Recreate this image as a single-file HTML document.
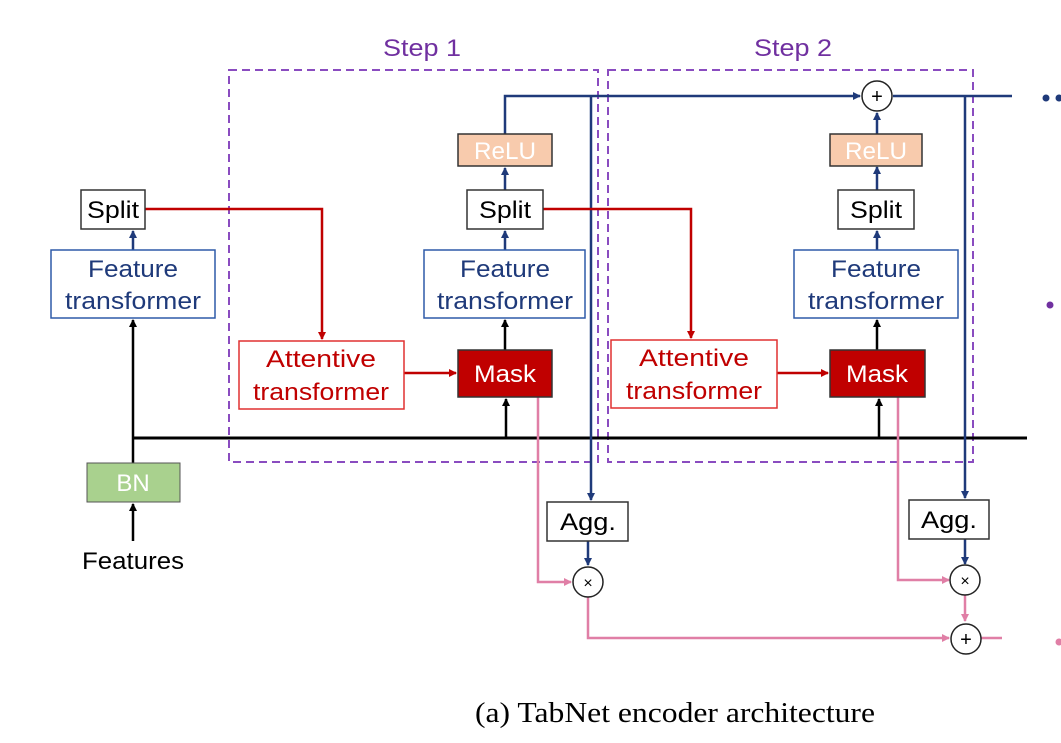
<!DOCTYPE html>
<html><head><meta charset="utf-8"><style>
html,body{margin:0;padding:0;background:#fff;width:1061px;height:743px;overflow:hidden}
svg{display:block}
text{font-family:"Liberation Sans",sans-serif}
</style></head><body>
<svg width="1061" height="743" viewBox="0 0 1061 743">
<defs>
<marker id="ab" markerWidth="8" markerHeight="8" refX="7" refY="4" orient="auto" markerUnits="userSpaceOnUse"><path d="M0,0 L8,4 L0,8z" fill="#1f3a7a"/></marker>
<marker id="ak" markerWidth="8" markerHeight="8" refX="7" refY="4" orient="auto" markerUnits="userSpaceOnUse"><path d="M0,0 L8,4 L0,8z" fill="#000"/></marker>
<marker id="ar" markerWidth="8" markerHeight="8" refX="7" refY="4" orient="auto" markerUnits="userSpaceOnUse"><path d="M0,0 L8,4 L0,8z" fill="#c00000"/></marker>
<marker id="ap" markerWidth="8" markerHeight="8" refX="7" refY="4" orient="auto" markerUnits="userSpaceOnUse"><path d="M0,0 L8,4 L0,8z" fill="#e07fa6"/></marker>
</defs>
<rect x="229" y="70" width="369" height="392" fill="none" stroke="#8a4cc0" stroke-width="2" stroke-dasharray="8,5"/>
<rect x="608" y="70" width="365" height="392" fill="none" stroke="#8a4cc0" stroke-width="2" stroke-dasharray="8,5"/>
<text x="422" y="56" font-size="24" fill="#7030a0" text-anchor="middle" textLength="78" lengthAdjust="spacingAndGlyphs">Step 1</text>
<text x="793" y="56" font-size="24" fill="#7030a0" text-anchor="middle" textLength="78" lengthAdjust="spacingAndGlyphs">Step 2</text>
<line x1="133" y1="463" x2="133" y2="320" stroke="#000" stroke-width="2.5" marker-end="url(#ak)"/>
<line x1="133" y1="438" x2="1027" y2="438" stroke="#000" stroke-width="3"/>
<line x1="133" y1="541" x2="133" y2="504" stroke="#000" stroke-width="2.5" marker-end="url(#ak)"/>
<line x1="506" y1="438" x2="506" y2="399" stroke="#000" stroke-width="2.5" marker-end="url(#ak)"/>
<line x1="505" y1="350" x2="505" y2="320" stroke="#000" stroke-width="2.5" marker-end="url(#ak)"/>
<line x1="879" y1="438" x2="879" y2="399" stroke="#000" stroke-width="2.5" marker-end="url(#ak)"/>
<line x1="877" y1="350" x2="877" y2="320" stroke="#000" stroke-width="2.5" marker-end="url(#ak)"/>
<polyline points="505,134 505,96 860,96" fill="none" stroke="#1f3a7a" stroke-width="2.5" marker-end="url(#ab)"/>
<line x1="893" y1="96" x2="1012" y2="96" stroke="#1f3a7a" stroke-width="2.5"/>
<line x1="591" y1="96" x2="591" y2="500" stroke="#1f3a7a" stroke-width="2.5" marker-end="url(#ab)"/>
<line x1="965" y1="96" x2="965" y2="498" stroke="#1f3a7a" stroke-width="2.5" marker-end="url(#ab)"/>
<line x1="133" y1="250" x2="133" y2="231" stroke="#1f3a7a" stroke-width="2.5" marker-end="url(#ab)"/>
<line x1="505" y1="250" x2="505" y2="231" stroke="#1f3a7a" stroke-width="2.5" marker-end="url(#ab)"/>
<line x1="505" y1="190" x2="505" y2="168" stroke="#1f3a7a" stroke-width="2.5" marker-end="url(#ab)"/>
<line x1="877" y1="250" x2="877" y2="231" stroke="#1f3a7a" stroke-width="2.5" marker-end="url(#ab)"/>
<line x1="877" y1="190" x2="877" y2="167" stroke="#1f3a7a" stroke-width="2.5" marker-end="url(#ab)"/>
<line x1="877" y1="134" x2="877" y2="113" stroke="#1f3a7a" stroke-width="2.5" marker-end="url(#ab)"/>
<line x1="588" y1="541" x2="588" y2="565" stroke="#1f3a7a" stroke-width="2.5" marker-end="url(#ab)"/>
<line x1="965" y1="539" x2="965" y2="564" stroke="#1f3a7a" stroke-width="2.5" marker-end="url(#ab)"/>
<polyline points="145,209 322,209 322,339" fill="none" stroke="#c00000" stroke-width="2.5" marker-end="url(#ar)"/>
<polyline points="543,209 691,209 691,338" fill="none" stroke="#c00000" stroke-width="2.5" marker-end="url(#ar)"/>
<line x1="404" y1="373" x2="456" y2="373" stroke="#c00000" stroke-width="2.5" marker-end="url(#ar)"/>
<line x1="777" y1="373" x2="828" y2="373" stroke="#c00000" stroke-width="2.5" marker-end="url(#ar)"/>
<polyline points="538,397 538,582 571,582" fill="none" stroke="#e07fa6" stroke-width="2.5" marker-end="url(#ap)"/>
<polyline points="898,397 898,580 949,580" fill="none" stroke="#e07fa6" stroke-width="2.5" marker-end="url(#ap)"/>
<polyline points="588,597 588,638 949,638" fill="none" stroke="#e07fa6" stroke-width="2.5" marker-end="url(#ap)"/>
<line x1="965" y1="595" x2="965" y2="621" stroke="#e07fa6" stroke-width="2.5" marker-end="url(#ap)"/>
<line x1="981" y1="638" x2="1002" y2="638" stroke="#e07fa6" stroke-width="2.5"/>
<circle cx="1046" cy="98" r="3.5" fill="#1f3a7a"/><circle cx="1059" cy="98" r="3.5" fill="#1f3a7a"/>
<circle cx="1050" cy="305" r="3.5" fill="#7030a0"/>
<circle cx="1059" cy="642" r="3.5" fill="#e07fa6"/>
<g font-size="24" text-anchor="middle">
<rect x="81" y="190" width="64" height="39" fill="#fff" stroke="#333" stroke-width="1.5"/>
<text x="113" y="218" fill="#000" textLength="52" lengthAdjust="spacingAndGlyphs">Split</text>
<rect x="51" y="250" width="164" height="68" fill="#fff" stroke="#2e5aa8" stroke-width="1.5"/>
<text x="133" y="277" fill="#1f3a7a" textLength="90" lengthAdjust="spacingAndGlyphs">Feature</text><text x="133" y="309" fill="#1f3a7a" textLength="136" lengthAdjust="spacingAndGlyphs">transformer</text>
<rect x="87" y="463" width="93" height="39" fill="#a9d18e" stroke="#555" stroke-width="1"/>
<text x="133" y="491" fill="#fff">BN</text>
<text x="133" y="569" fill="#000" textLength="102" lengthAdjust="spacingAndGlyphs">Features</text>

<rect x="239" y="341" width="165" height="68" fill="#fff" stroke="#e03030" stroke-width="1.5"/>
<text x="321" y="367" fill="#c00000" textLength="110" lengthAdjust="spacingAndGlyphs">Attentive</text><text x="321" y="400" fill="#c00000" textLength="136" lengthAdjust="spacingAndGlyphs">transformer</text>
<rect x="458" y="350" width="94" height="47" fill="#c00000" stroke="#333" stroke-width="1.5"/>
<text x="505" y="382" fill="#fff" textLength="62" lengthAdjust="spacingAndGlyphs">Mask</text>
<rect x="424" y="250" width="161" height="68" fill="#fff" stroke="#2e5aa8" stroke-width="1.5"/>
<text x="505" y="277" fill="#1f3a7a" textLength="90" lengthAdjust="spacingAndGlyphs">Feature</text><text x="505" y="309" fill="#1f3a7a" textLength="136" lengthAdjust="spacingAndGlyphs">transformer</text>
<rect x="467" y="190" width="76" height="39" fill="#fff" stroke="#333" stroke-width="1.5"/>
<text x="505" y="218" fill="#000" textLength="52" lengthAdjust="spacingAndGlyphs">Split</text>
<rect x="458" y="134" width="94" height="32" fill="#f8cbad" stroke="#333" stroke-width="1.5"/>
<text x="505" y="159" fill="#fff" textLength="62" lengthAdjust="spacingAndGlyphs">ReLU</text>

<rect x="611" y="340" width="166" height="68" fill="#fff" stroke="#e03030" stroke-width="1.5"/>
<text x="694" y="366" fill="#c00000" textLength="110" lengthAdjust="spacingAndGlyphs">Attentive</text><text x="694" y="399" fill="#c00000" textLength="136" lengthAdjust="spacingAndGlyphs">transformer</text>
<rect x="830" y="350" width="95" height="47" fill="#c00000" stroke="#333" stroke-width="1.5"/>
<text x="877" y="382" fill="#fff" textLength="62" lengthAdjust="spacingAndGlyphs">Mask</text>
<rect x="794" y="250" width="164" height="68" fill="#fff" stroke="#2e5aa8" stroke-width="1.5"/>
<text x="876" y="277" fill="#1f3a7a" textLength="90" lengthAdjust="spacingAndGlyphs">Feature</text><text x="876" y="309" fill="#1f3a7a" textLength="136" lengthAdjust="spacingAndGlyphs">transformer</text>
<rect x="838" y="190" width="76" height="39" fill="#fff" stroke="#333" stroke-width="1.5"/>
<text x="876" y="218" fill="#000" textLength="52" lengthAdjust="spacingAndGlyphs">Split</text>
<rect x="830" y="134" width="92" height="32" fill="#f8cbad" stroke="#333" stroke-width="1.5"/>
<text x="876" y="159" fill="#fff" textLength="62" lengthAdjust="spacingAndGlyphs">ReLU</text>

<rect x="547" y="502" width="81" height="39" fill="#fff" stroke="#333" stroke-width="1.5"/>
<text x="588" y="530" fill="#000" textLength="56" lengthAdjust="spacingAndGlyphs">Agg.</text>
<rect x="909" y="500" width="80" height="39" fill="#fff" stroke="#333" stroke-width="1.5"/>
<text x="949" y="528" fill="#000" textLength="56" lengthAdjust="spacingAndGlyphs">Agg.</text>
</g>
<g fill="#fff" stroke="#222" stroke-width="1.5">
<circle cx="877" cy="96" r="15"/>
<circle cx="588" cy="582" r="15"/>
<circle cx="965" cy="580" r="15"/>
<circle cx="966" cy="639" r="15"/>
</g>
<g font-size="20" text-anchor="middle" fill="#000">
<text x="877" y="103">+</text>
<text x="588" y="588" font-size="16">×</text>
<text x="965" y="586" font-size="16">×</text>
<text x="966" y="646">+</text>
</g>
<text x="675" y="722" font-size="28" text-anchor="middle" textLength="400" lengthAdjust="spacingAndGlyphs" style="font-family:'Liberation Serif',serif">(a)  TabNet encoder architecture</text>
</svg>
</body></html>
